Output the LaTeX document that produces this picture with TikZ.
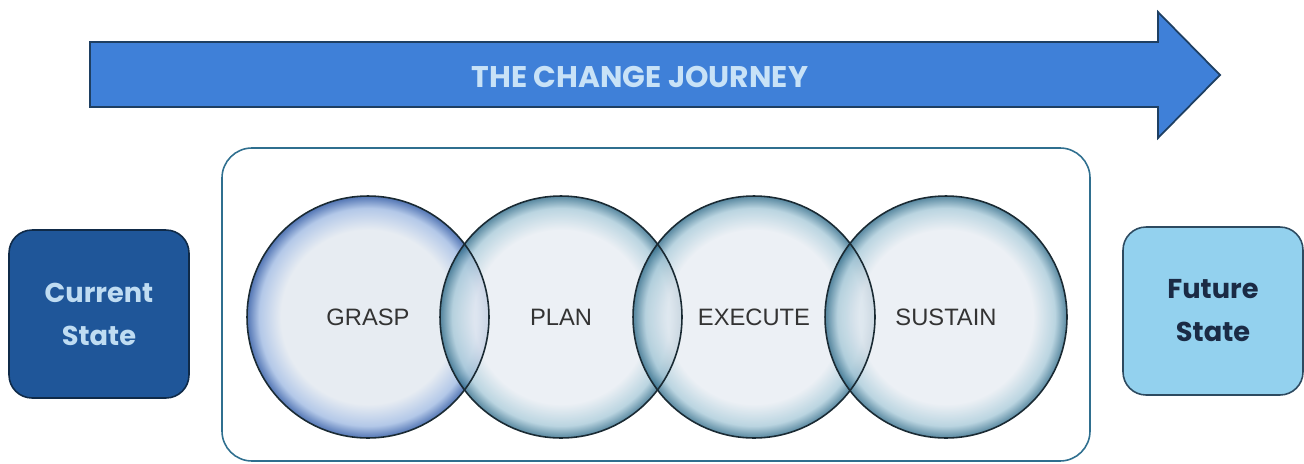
\documentclass[tikz,border=0pt]{standalone}
\usepackage{fontspec}
\setmainfont{Liberation Sans}
\newfontfamily\poppins{Poppins}
\usetikzlibrary{positioning}

\definecolor{arrowblue}{HTML}{3F80D8}
\definecolor{arrowedge}{HTML}{1E3F62}
\definecolor{titleblue}{HTML}{C8E2F7}
\definecolor{frameteal}{HTML}{2F6F8F}
\definecolor{currentblue}{HTML}{1F5699}
\definecolor{currentedge}{HTML}{0F2A48}
\definecolor{currenttext}{HTML}{BFDCF2}
\definecolor{futureblue}{HTML}{93D1EE}
\definecolor{futureedge}{HTML}{2D4A60}
\definecolor{futuretext}{HTML}{1B2B45}
\definecolor{ringin}{HTML}{E7ECF2}
\definecolor{bluemid}{HTML}{B3C8E8}
\definecolor{bluerim}{HTML}{5275B4}
\definecolor{tealmid}{HTML}{A9CAD9}
\definecolor{tealrim}{HTML}{2E6A88}
\definecolor{ringline}{HTML}{1A2A33}
\definecolor{ringword}{HTML}{333333}

% the circle's rim sits at 25bp of the shading
\pgfdeclareradialshading{ringblue}{\pgfpoint{0bp}{0bp}}{color(0bp)=(ringin); color(18bp)=(ringin); color(22.5bp)=(bluemid); color(25bp)=(bluerim); color(50bp)=(bluerim)}
\pgfdeclareradialshading{ringteal}{\pgfpoint{0bp}{0bp}}{color(0bp)=(ringin); color(18bp)=(ringin); color(22.5bp)=(tealmid); color(25bp)=(tealrim); color(50bp)=(tealrim)}

\tikzset{
  journeyarrow/.style={fill=arrowblue, draw=arrowedge, line width=1pt, line join=miter},
  titletext/.style={text=titleblue, font=\poppins\bfseries\fontsize{17}{20}\selectfont},
  frame/.style={draw=frameteal, line width=0.9pt, rounded corners=0.6cm},
  statebox/.style={rectangle, rounded corners=0.46cm, line width=0.9pt, align=center,
    minimum width=3.6cm, minimum height=3.36cm, inner sep=0pt,
    font=\poppins\bfseries\fontsize{15.5}{24.5}\selectfont},
  ring/.style={circle, minimum size=4.84cm, inner sep=0pt, shade, shading=ringteal,
    fill opacity=0.8, text opacity=1, text=ringword,
    font=\fontsize{13.5}{16}\selectfont},
  ringedge/.style={draw=ringline, line width=0.9pt},
}

\begin{document}
\begin{tikzpicture}[x=0.02cm,y=-0.02cm]
    \useasboundingbox (0,0) rectangle (1304,463);
    % arrow across the top
    \draw[journeyarrow] (90,42) -- (1158,42) -- (1158,12) -- (1220,75)
        -- (1158,138) -- (1158,107) -- (90,107) -- cycle;
    \node[titletext] (journey) at (640,76.5) {THE CHANGE JOURNEY};
    % frame round the four stages
    \draw[frame] (222,148) rectangle (1090,461);
    \node[statebox, fill=currentblue, draw=currentedge, text=currenttext] (current) at (99,314) {Current\\State};
    \node[statebox, fill=futureblue, draw=futureedge, text=futuretext] (future) at (1213,311) {Future\\State};
    % the stages
    \node[ring, shading=ringblue, fill opacity=1] (grasp) at (368,317) {GRASP};
    \node[ring] (plan) at (561,317) {PLAN};
    \node[ring] (execute) at (754,317) {EXECUTE};
    \node[ring] (sustain) at (946,317) {SUSTAIN};
    \foreach \c in {grasp,plan,execute,sustain}
        \draw[ringedge] (\c.center) circle (2.42cm);
\end{tikzpicture}
\end{document}
